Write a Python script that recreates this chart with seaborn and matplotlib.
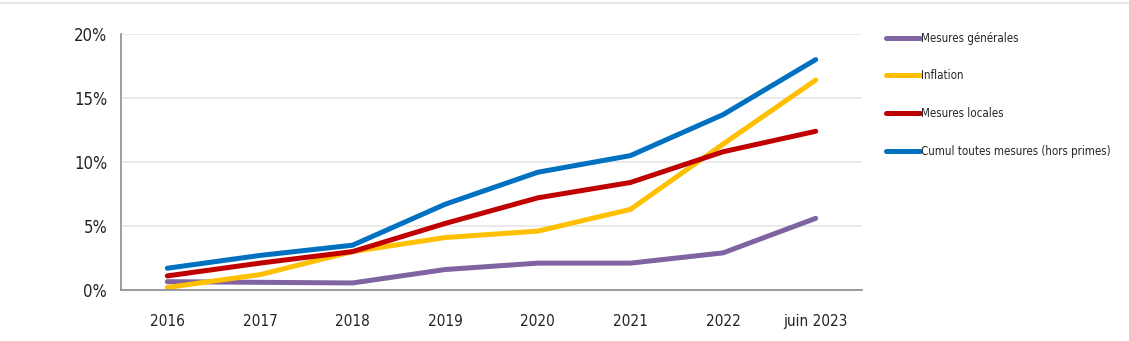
import matplotlib
matplotlib.use("Agg")
import matplotlib.pyplot as plt
import seaborn as sns
import pandas as pd
from matplotlib.ticker import FixedLocator, FuncFormatter
from matplotlib import font_manager

categories = ["2016", "2017", "2018", "2019", "2020", "2021", "2022", "juin 2023"]
mesures_generales = [0.65, 0.6, 0.55, 1.6, 2.1, 2.1, 2.9, 5.6]
inflation = [0.2, 1.2, 3.0, 4.1, 4.6, 6.3, 11.4, 16.4]
mesures_locales = [1.1, 2.1, 3.0, 5.2, 7.2, 8.4, 10.8, 12.4]
cumul = [1.7, 2.7, 3.5, 6.7, 9.2, 10.5, 13.7, 18.0]

series_names = ["Mesures générales", "Inflation", "Mesures locales",
                "Cumul toutes mesures (hors primes)"]
series_values = [mesures_generales, inflation, mesures_locales, cumul]
colors = ["#8064A2", "#FFC000", "#C00000", "#0070C0"]

rows = []
for name, vals in zip(series_names, series_values):
    for i, v in enumerate(vals):
        rows.append({"x": i, "cat": categories[i], "val": v, "serie": name})
df = pd.DataFrame(rows)

sns.set_style("white")
avail = {f.name for f in font_manager.fontManager.ttflist}
if "Liberation Sans Narrow" in avail:
    plt.rcParams["font.family"] = ["Liberation Sans Narrow", "DejaVu Sans"]
else:
    plt.rcParams["font.family"] = ["DejaVu Sans"]
    plt.rcParams["font.stretch"] = "condensed"

fig = plt.figure(figsize=(11.29, 3.41), dpi=100)
ax = fig.add_axes([121/1129, 1-290/341, (862-121)/1129, (290-34)/341])

sns.lineplot(data=df, x="x", y="val", hue="serie", hue_order=series_names,
             palette=colors, linewidth=3.6, ax=ax, legend=True, sort=False,
             solid_capstyle="round", solid_joinstyle="round")

ax.set_xlim(-0.5, len(categories) - 0.5)
ax.set_ylim(0, 20)
ax.set_xticks(range(len(categories)))
ax.set_xticklabels(categories)
ax.xaxis.set_minor_locator(FixedLocator([i - 0.5 for i in range(len(categories) + 1)]))
ax.tick_params(axis="x", which="major", length=0, pad=17, labelsize=11, labelcolor="#222222")
ax.tick_params(axis="x", which="minor", length=6, width=1, color="#8c8c8c", direction="out")
ax.set_yticks([0, 5, 10, 15, 20])
ax.yaxis.set_major_formatter(FuncFormatter(lambda v, p: f"{int(v)}%"))
ax.tick_params(axis="y", length=5, width=1, color="#8c8c8c", direction="out",
               labelsize=12, labelcolor="#222222", pad=5)
ax.yaxis.grid(True, color="#e6e6e6", linewidth=1.2)
ax.set_axisbelow(True)
for s in ["top", "right"]:
    ax.spines[s].set_visible(False)
for s in ["left", "bottom"]:
    ax.spines[s].set_color("#8c8c8c")
    ax.spines[s].set_linewidth(1.2)
ax.set_xlabel("")
ax.set_ylabel("")

handles, labels = ax.get_legend_handles_labels()
for h in handles:
    h.set_linewidth(3.6)
ax.legend(handles, labels, loc="upper left", bbox_to_anchor=(881/1129, 1-27/341),
          bbox_transform=fig.transFigure, frameon=False, fontsize=8.3,
          handlelength=3.0, handletextpad=0.1, labelspacing=2.15, borderaxespad=0)

fig.add_artist(plt.Line2D([0, 1], [1-3/341, 1-3/341], transform=fig.transFigure,
                          color="#e0e0e0", linewidth=1.2))

fig.savefig("out.png", dpi=100)
